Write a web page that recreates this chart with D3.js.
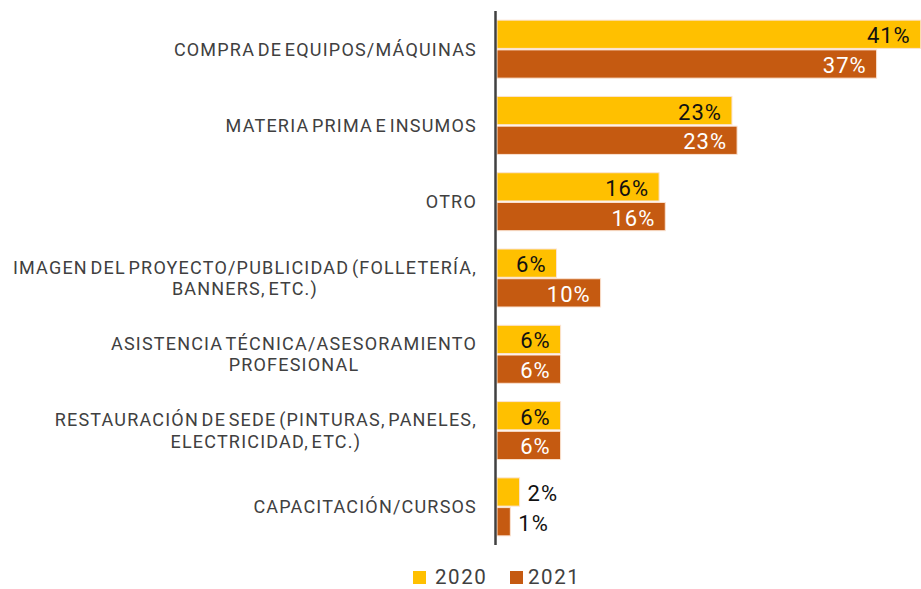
<!DOCTYPE html>
<html>
<head>
<meta charset="utf-8">
<script src="https://cdn.jsdelivr.net/npm/d3@7"></script>
<style>
  html, body { margin: 0; padding: 0; background: #fff; }
  svg { display: block; }
</style>
</head>
<body>
<svg id="chart" width="921" height="589"></svg>
<script>
// ---- data ----
const categories = [
  ["COMPRA DE EQUIPOS/MÁQUINAS"],
  ["MATERIA PRIMA E INSUMOS"],
  ["OTRO"],
  ["IMAGEN DEL PROYECTO/PUBLICIDAD (FOLLETERÍA,", "BANNERS, ETC.)"],
  ["ASISTENCIA TÉCNICA/ASESORAMIENTO", "PROFESIONAL"],
  ["RESTAURACIÓN DE SEDE (PINTURAS, PANELES,", "ELECTRICIDAD, ETC.)"],
  ["CAPACITACIÓN/CURSOS"]
];
const seriesNames = ["2020", "2021"];
const values2020 = [41.3, 22.9, 15.8, 5.8, 6.2, 6.2, 2.2];
const values2021 = [37.0, 23.4, 16.4, 10.1, 6.2, 6.2, 1.3];
const colors = ["#FFC000", "#C55A11"];

// ---- layout ----
const svg = d3.select("#chart");
const x0 = 497;
const x = d3.scaleLinear().domain([0, 40]).range([x0, x0 + 410.4]);
const y = d3.scaleBand().domain(d3.range(categories.length)).range([11, 545])
  .paddingInner(0.24).paddingOuter(0.12);
const yIn = d3.scaleBand().domain([0, 1]).range([0, y.bandwidth()]).paddingInner(0.05);

const series = [values2020, values2021];
const labelFill = ["#111", "#fff"];

// bars
series.forEach((vals, s) => {
  const g = svg.append("g");
  g.selectAll("rect").data(vals).join("rect")
    .attr("x", x(0))
    .attr("y", (d, i) => y(i) + yIn(s))
    .attr("width", d => x(d) - x(0))
    .attr("height", yIn.bandwidth())
    .attr("fill", colors[s])
    .attr("stroke", "#fbe3d2")
    .attr("stroke-width", 1);

  g.selectAll("text").data(vals).join("text")
    .attr("x", d => (d < 4 ? x(d) + 8 : x(d) - 10))
    .attr("y", (d, i) => y(i) + yIn(s) + yIn.bandwidth() / 2 + 9)
    .attr("text-anchor", d => (d < 4 ? "start" : "end"))
    .attr("font-family", "Roboto, sans-serif")
    .attr("font-size", 22)
    .attr("letter-spacing", 1)
    .attr("fill", d => (d < 4 ? "#111" : labelFill[s]))
    .text(d => Math.round(d) + "%");
});

// axis line
svg.append("line")
  .attr("x1", 495.5).attr("x2", 495.5)
  .attr("y1", 11).attr("y2", 545)
  .attr("stroke", "#404040").attr("stroke-width", 2.5);

// category labels
const labelRight = 477;
const lineH = 21.5;
categories.forEach((lines, i) => {
  const g = svg.append("g");
  const cy = y(i) + y.bandwidth() / 2;
  const n = lines.length;
  const texts = lines.map((t, k) => g.append("text")
    .attr("y", cy + 6.4 + (k - (n - 1) / 2) * lineH)
    .attr("text-anchor", "middle")
    .attr("font-family", "Roboto, sans-serif")
    .attr("font-size", 18)
    .attr("letter-spacing", 1.2)
    .attr("word-spacing", -3)
    .attr("fill", "#404040")
    .text(t));
  const maxW = d3.max(texts, t => t.node().getComputedTextLength());
  texts.forEach(t => t.attr("x", labelRight - maxW / 2));
});

// legend
const legendItems = [{x: 413, tx: 435}, {x: 510, tx: 528}];
seriesNames.forEach((name, s) => {
  svg.append("rect")
    .attr("x", legendItems[s].x).attr("y", 571)
    .attr("width", 13).attr("height", 13)
    .attr("fill", colors[s]);
  svg.append("text")
    .attr("x", legendItems[s].tx).attr("y", 583.5)
    .attr("font-family", "Roboto, sans-serif")
    .attr("font-size", 20.5)
    .attr("letter-spacing", 1.6)
    .attr("fill", "#404040")
    .text(name);
});
</script>
</body>
</html>
